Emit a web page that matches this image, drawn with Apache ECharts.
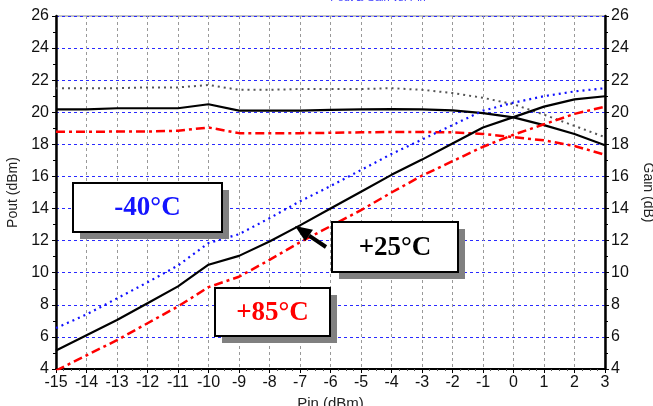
<!DOCTYPE html>
<html>
<head>
<meta charset="utf-8">
<script src="https://cdn.jsdelivr.net/npm/echarts@6/dist/echarts.min.js"></script>
<style>
html,body{margin:0;padding:0;background:#fff;}
#chart{width:653px;height:406px;}
</style>
</head>
<body>
<div id="chart"></div>
<script>
// ---- data ----
var pin = [-15,-14,-13,-12,-11,-10,-9,-8,-7,-6,-5,-4,-3,-2,-1,0,1,2,3];
var poutM40 = [6.55,7.4,8.4,9.4,10.45,11.85,12.4,13.4,14.45,15.4,16.4,17.4,18.3,19.2,20.1,20.6,21.0,21.3,21.5];
var pout25  = [5.15,6.1,7.05,8.1,9.15,10.5,11.05,11.95,12.95,14.0,15.05,16.1,17.05,18.05,19.05,19.7,20.35,20.8,21.0];
var pout85  = [3.9,4.85,5.8,6.85,7.9,9.1,9.75,10.8,11.9,12.9,13.9,15.0,16.05,16.95,17.85,18.6,19.25,19.9,20.35];
var gainM40 = [21.5,21.5,21.5,21.55,21.55,21.7,21.4,21.4,21.45,21.45,21.45,21.5,21.4,21.2,20.9,20.5,19.85,19.15,18.45];
var gain25  = [20.18,20.18,20.25,20.25,20.25,20.5,20.1,20.1,20.1,20.15,20.18,20.2,20.18,20.12,19.95,19.68,19.2,18.65,17.95];
var gain85  = [18.78,18.78,18.8,18.8,18.85,19.05,18.7,18.7,18.7,18.72,18.75,18.77,18.77,18.75,18.65,18.45,18.25,17.9,17.35];
var xTicks = {min:-15, max:3, step:1};
var yTicks = {min:4, max:26, step:2};
var labels = {m40:'-40°C', p25:'+25°C', p85:'+85°C'};
var axisNames = {x:'Pin (dBm)', yl:'Pout (dBm)', yr:'Gain (dB)'};
var title = 'Pout & Gain vs. Pin';

function pairs(ys){ return pin.map(function(x,i){ return [x, ys[i]]; }); }

var chart = echarts.init(document.getElementById('chart'), null, {renderer:'canvas'});
var font = 'Liberation Sans, Arial, sans-serif';
var serif = 'Liberation Serif, Times New Roman, serif';

function yAxis(pos, name, rot){
  return {
    type:'value', position:pos, min:yTicks.min, max:yTicks.max, interval:yTicks.step,
    name:name, nameLocation:'middle', nameGap:pos==='left'?33:36, nameRotate:rot,
    nameTextStyle:{fontFamily:font, fontSize:14, color:'#222'},
    axisLine:{show:true, onZero:false, lineStyle:{color:'#000', width:2.5}},
    axisTick:{show:true, inside:false, length:4, lineStyle:{color:'#000'}},
    minorTick:{show:true, splitNumber:2, length:3, lineStyle:{color:'#000'}},
    axisLabel:{fontFamily:font, fontSize:16, color:'#111', margin:pos==='left'?7:6},
    splitLine:{show: pos==='left', lineStyle:{color:'#2a2aff', type:[3,3], width:1}}
  };
}

function line(name, ys, yi, color, type, width){
  return {
    name:name, type:'line', yAxisIndex:yi, data:pairs(ys), symbol:'none', smooth:false,
    lineStyle:{color:color, type:type, width:width}, silent:true, animation:false
  };
}

var option = {
  animation:false,
  backgroundColor:'#fff',
  grid:{left:56, right:48, top:16, bottom:37, show:true, borderColor:'#888', borderWidth:1,
        containLabel:false, outerBoundsMode:'none'},
  xAxis:{
    type:'value', min:xTicks.min, max:xTicks.max, interval:xTicks.step,
    name:axisNames.x, nameLocation:'middle', nameGap:25,
    nameTextStyle:{fontFamily:font, fontSize:15, color:'#222', verticalAlign:'top'},
    axisLine:{show:true, onZero:false, lineStyle:{color:'#000', width:2}},
    axisTick:{show:true, length:4, lineStyle:{color:'#000'}},
    minorTick:{show:true, splitNumber:4, length:2, lineStyle:{color:'#555'}},
    axisLabel:{fontFamily:font, fontSize:16, color:'#111', margin:6},
    splitLine:{show:true, lineStyle:{color:'#999', type:[3,3], width:1}}
  },
  yAxis:[ yAxis('left', axisNames.yl, 90), yAxis('right', axisNames.yr, -90) ],
  series:[
    line('Gain -40', gainM40, 1, '#555555', [2,4], 2),
    line('Gain 25', gain25, 1, '#000000', 'solid', 2.2),
    line('Gain 85', gain85, 1, '#ff0000', [9,4,3,4], 2.5),
    line('Pout -40', poutM40, 0, '#1010ff', [2,4], 2.2),
    line('Pout 25', pout25, 0, '#000000', 'solid', 2.2),
    line('Pout 85', pout85, 0, '#ff0000', [9,4,3,4], 2.5)
  ]
};
chart.setOption(option);

function box(x,y,w,h,text,color){
  return [
    {type:'rect', shape:{x:x+7,y:y+7,width:w,height:h}, style:{fill:'#808080'}, z:100},
    {type:'rect', shape:{x:x,y:y,width:w,height:h}, style:{fill:'#fff', stroke:'#000', lineWidth:2}, z:101},
    {type:'text', x:x+w/2, y:y+h/2+1, style:{text:text, fill:color, font:'bold 27px '+serif, align:'center', verticalAlign:'middle'}, z:102}
  ];
}
var tip=[295,226], tail=[326,247];
var dx=tip[0]-tail[0], dy=tip[1]-tail[1], L=Math.sqrt(dx*dx+dy*dy), ux=dx/L, uy=dy/L;
var hl=17, hw=7;
var bc=[tip[0]-hl*ux, tip[1]-hl*uy];
var px=-uy, py=ux;
var g = [].concat(
  box(73,183,149,49,labels.m40,'#1414ff'),
  box(332,222,126,50,labels.p25,'#000'),
  box(215,288,115,48,labels.p85,'#ff0000'),
  [
    {type:'line', shape:{x1:tail[0],y1:tail[1],x2:bc[0],y2:bc[1]}, style:{stroke:'#000', lineWidth:4}, z:103},
    {type:'polygon', shape:{points:[tip,[bc[0]+hw*px,bc[1]+hw*py],[bc[0]-hw*px,bc[1]-hw*py]]}, style:{fill:'#000'}, z:103},
    {type:'text', x:378, y:-8, style:{text:title, fill:'#3b3bff', font:'11px '+font, align:'center'}, z:50}
  ]
);
chart.setOption({graphic:g});
</script>
</body>
</html>
